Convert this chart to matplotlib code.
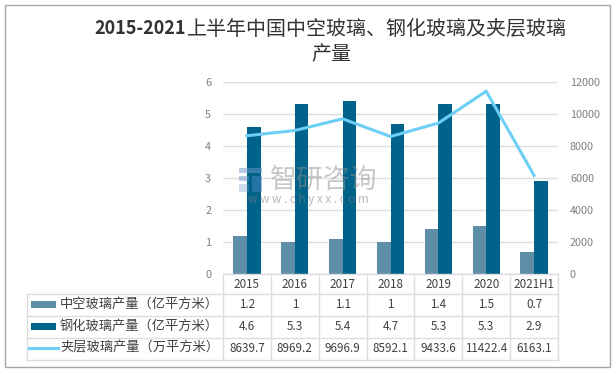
import numpy as np
import matplotlib
matplotlib.use("Agg")
import matplotlib.pyplot as plt
from matplotlib.lines import Line2D
from matplotlib.patches import Rectangle

plt.rcParams['font.family'] = ['Noto Sans CJK SC', 'DejaVu Sans']

# Data
years = ["2015", "2016", "2017", "2018", "2019", "2020", "2021H1"]
hollow = [1.2, 1, 1.1, 1, 1.4, 1.5, 0.7]
tempered = [4.6, 5.3, 5.4, 4.7, 5.3, 5.3, 2.9]
laminated = [8639.7, 8969.2, 9696.9, 8592.1, 9433.6, 11422.4, 6163.1]
laminated_labels = ["8639.7", "8969.2", "9696.9", "8592.1", "9433.6", "11422.4", "6163.1"]
series_names = ["中空玻璃产量（亿平方米）", "钢化玻璃产量（亿平方米）", "夹层玻璃产量（万平方米）"]

W, H = 616, 373
C1, C2, C3 = "#5F8FA8", "#00638A", "#6ECFF6"
GRID = "#DDDDDD"
TXT = "#404040"
TICK = "#7F7F7F"

def fx(x):
    return x / W

def fy(y):
    return 1 - y / H

def add_box(x, y, w, h, color, alpha=1.0, zorder=1):
    # x, y = top left corner in pixels
    fig.patches.append(Rectangle((fx(x), fy(y + h)), w / W, h / H, transform=fig.transFigure,
                                 fc=color, ec="none", alpha=alpha, zorder=zorder))

fig = plt.figure(figsize=(W / 100, H / 100), dpi=100)
fig.patches.append(Rectangle((fx(4.5), fy(367)), 605 / W, 362.5 / H, transform=fig.transFigure,
                             fill=False, ec="#A6A6A6", lw=1))

# Main axes
x0, x1 = 223, 558
ax = fig.add_axes([fx(x0), fy(274), (x1 - x0) / W, (274 - 82) / H])
x = np.arange(len(years))
w = 0.285
ax.bar(x - w / 2, hollow, w, color=C1, zorder=2)
ax.bar(x + w / 2, tempered, w, color=C2, zorder=2)
ax.set_xlim(-0.5, 6.5)
ax.set_ylim(0, 6)
ax.set_yticks(range(7))
ax.grid(axis="y", color=GRID, lw=1, zorder=0)
ax.set_axisbelow(True)
ax.tick_params(axis="both", length=0, labelsize=7.8, labelcolor=TICK, pad=8.6)
ax.set_xticks([])
for s in ax.spines.values():
    s.set_visible(False)

ax2 = ax.twinx()
ax2.plot(x, laminated, color=C3, lw=2.2, zorder=3)
ax2.set_ylim(0, 12000)
ax2.set_yticks(range(0, 12001, 2000))
ax2.tick_params(axis="y", length=0, labelsize=7.8, labelcolor=TICK, pad=8.6)
for s in ax2.spines.values():
    s.set_visible(False)

# Data table
rows_y = [274, 294, 316, 338, 360]
left = 27
col = (x1 - x0) / len(years)
for i, yy in enumerate(rows_y):
    fig.add_artist(Line2D([fx(x0 if i == 0 else left), fx(x1)], [fy(yy), fy(yy)], color=GRID, lw=1))
fig.add_artist(Line2D([fx(left), fx(left)], [fy(294), fy(360)], color=GRID, lw=1))
for i in range(len(years) + 1):
    xx = x0 + i * col
    fig.add_artist(Line2D([fx(xx), fx(xx)], [fy(274), fy(360)], color=GRID, lw=1))

rows = [years, [str(v) for v in hollow], [str(v) for v in tempered], laminated_labels]
for r, row in enumerate(rows):
    yc = (rows_y[r] + rows_y[r + 1]) / 2
    for i, label in enumerate(row):
        fig.text(fx(x0 + (i + 0.5) * col), fy(yc), label, ha="center", va="center",
                 fontsize=8.4, color=TXT)

for r, name in enumerate(series_names):
    yc = (rows_y[r + 1] + rows_y[r + 2]) / 2
    fig.text(fx(60), fy(yc - 1), name, ha="left", va="center", fontsize=9.5, color=TXT)
add_box(31, 301, 25, 7, C1)
add_box(31, 323, 25, 7, C2)
fig.add_artist(Line2D([fx(29), fx(58)], [fy(348), fy(348)], color=C3, lw=2.2))

# Title
fig.text(fx(186), fy(29), "2015-2021", ha="right", va="center", fontsize=13, fontweight="bold",
         color="#333333")
fig.text(fx(187), fy(29), "上半年中国中空玻璃、钢化玻璃及夹层玻璃", ha="left", va="center",
         fontsize=14.4, color="#333333")
fig.text(fx(331), fy(55), "产量", ha="center", va="center", fontsize=14.4, color="#333333")

# Watermark
fig.text(fx(324), fy(180), "智研咨询", ha="center", va="center", fontsize=19.4, color="#909090",
         alpha=0.5, zorder=5)
fig.text(fx(308), fy(199), "w w w . c h y x x . c o m", ha="center", va="center", fontsize=8.4,
         color="#808080", alpha=0.55, zorder=5)
add_box(239, 168, 23, 5, "#6F9BC8", 0.5, 5)
add_box(239, 176, 10, 5, "#6F9BC8", 0.5, 5)
add_box(252, 176, 10, 16, "#4F86BE", 0.5, 5)
add_box(239, 184, 10, 8, "#6F9BC8", 0.35, 5)

fig.savefig("out.png", dpi=100)
